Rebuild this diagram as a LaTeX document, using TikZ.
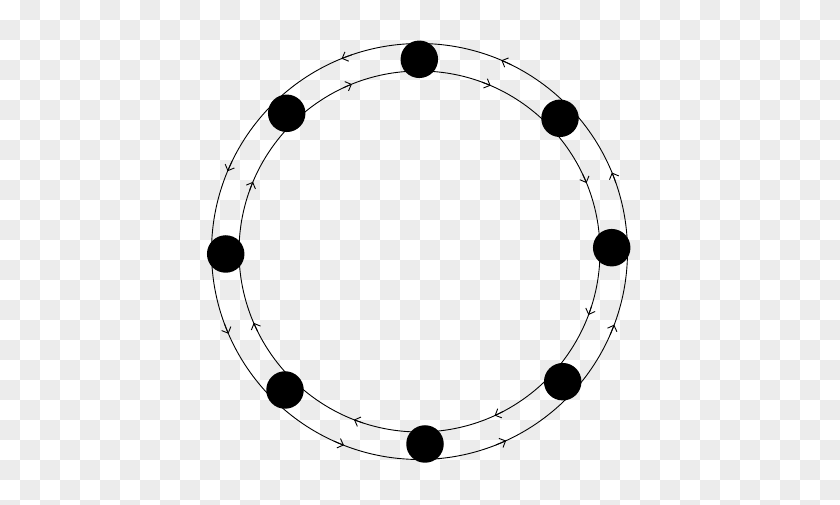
\documentclass[tikz,border=0pt]{standalone}
\usetikzlibrary{arrows.meta}
\definecolor{checkgray}{RGB}{236,236,236}
\tikzset{
  ring/.style={line width=0.9pt, black},
  tipin/.style={ring, -{Straight Barb[length=5pt,width=10pt,line width=0.9pt]}},
  dot/.style={circle, fill=black, inner sep=0pt, minimum size=37.5pt}
}
\begin{document}
\begin{tikzpicture}[x=1pt,y=1pt]
\useasboundingbox (0,0) rectangle (840,505);
\begin{scope}
\clip (0,0) rectangle (840,505);
\fill[white] (0,0) rectangle (840,505);
\foreach \j in {0,...,25}{
  \pgfmathtruncatemacro\st{mod(\j+1,2)}
  \pgfmathtruncatemacro\nx{\st+2}
  \foreach \i in {\st,\nx,...,41}{
    \fill[checkgray] ({20*\i},{505-20*\j}) rectangle ++(20,-20);
  }
}
\end{scope}
\coordinate (C) at (419.5,253.5);
\draw[ring] (C) circle[radius=208pt];
\draw[ring] (C) circle[radius=180.5pt];
% inner ring: clockwise arrowheads
\foreach \m in {66.8,22.3,-20.6,-65.4,-111.3,203.3,157.3,112}{
  \draw[tipin] ([shift={(\m+3:180.5pt)}]C) arc[start angle=\m+3, end angle=\m, radius=180.5pt];
  \draw[tipin] ([shift={(\m-3:208pt)}]C) arc[start angle=\m-3, end angle=\m, radius=208pt];
}
\node[dot] (d1) at (419.3,445.7) {};
\node[dot] (d2) at (560,386.7) {};
\node[dot] (d3) at (611.7,257.3) {};
\node[dot] (d4) at (562.7,123.3) {};
\node[dot] (d5) at (425,61) {};
\node[dot] (d6) at (285,115) {};
\node[dot] (d7) at (225.7,251) {};
\node[dot] (d8) at (286.7,391.7) {};
\end{tikzpicture}
\end{document}
